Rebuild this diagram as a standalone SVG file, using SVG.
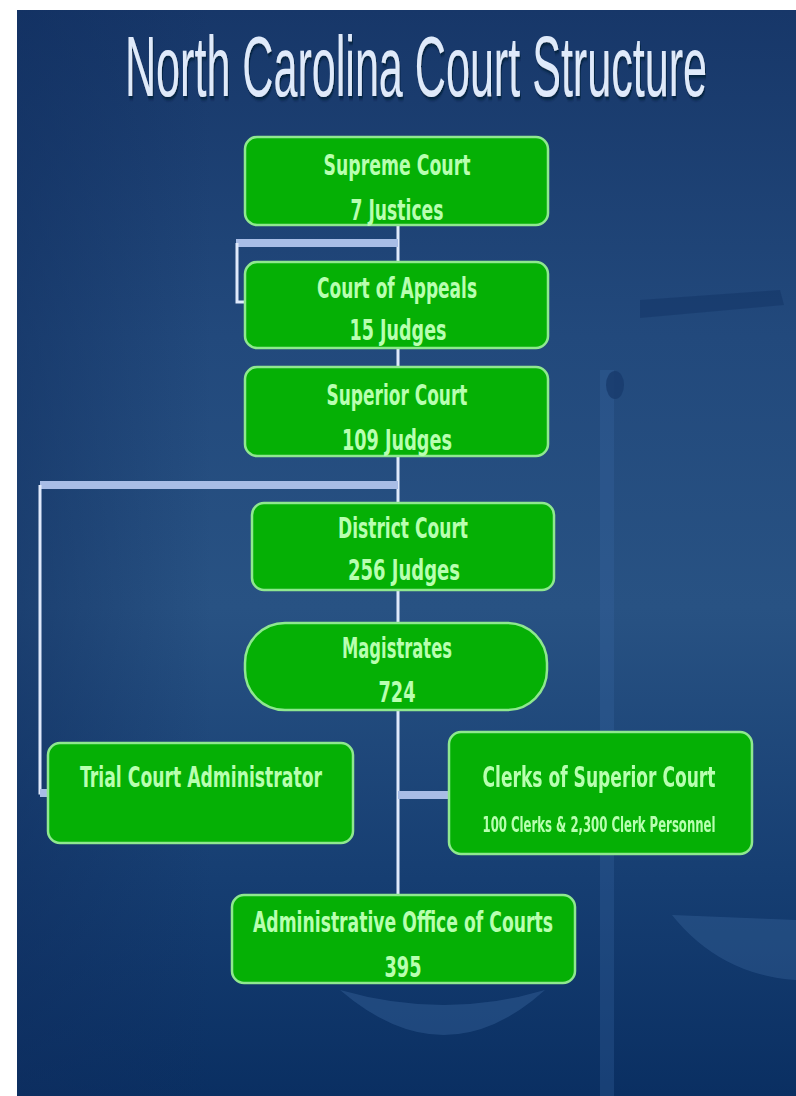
<svg xmlns="http://www.w3.org/2000/svg" width="796" height="1096" viewBox="0 0 796 1096">
  <defs>
    <linearGradient id="bg" x1="0" y1="0" x2="0" y2="1">
      <stop offset="0" stop-color="#173769"/>
      <stop offset="0.3" stop-color="#22497c"/>
      <stop offset="0.55" stop-color="#285283"/>
      <stop offset="0.8" stop-color="#163e72"/>
      <stop offset="1" stop-color="#0a2f62"/>
    </linearGradient>
    <linearGradient id="side" x1="0" y1="0" x2="1" y2="0">
      <stop offset="0" stop-color="#0f2d5e" stop-opacity="0.5"/>
      <stop offset="0.25" stop-color="#0f2d5e" stop-opacity="0"/>
      <stop offset="1" stop-color="#0f2d5e" stop-opacity="0"/>
    </linearGradient>
    <filter id="shadow" x="-5%" y="-20%" width="110%" height="150%">
      <feDropShadow dx="2" dy="3" stdDeviation="1.5" flood-color="#061a3a" flood-opacity="0.85"/>
    </filter>
    <style>
      .box { fill: #05b005; stroke: #8fe88f; stroke-width: 2.5; }
      .t { font-family: "DejaVu Sans", "Liberation Sans", sans-serif; font-weight: bold; fill: #b8ffb0; font-size: 29px; text-anchor: middle; }
      .s { font-size: 21px; }
      .band { stroke: #a8bde6; stroke-width: 8; fill: none; }
      .thin { stroke: #dfe9fb; stroke-width: 3; fill: none; }
      .title { font-family: "Liberation Sans", Arial, sans-serif; font-size: 85px; fill: #dfeafa; }
    </style>
  </defs>

  <rect x="0" y="0" width="796" height="1096" fill="#ffffff"/>
  <rect x="17" y="10" width="779" height="1086" fill="url(#bg)"/>
  <rect x="17" y="10" width="779" height="1086" fill="url(#side)"/>

  <!-- faint scales of justice in background -->
  <g id="background-scales" opacity="0.5">
    <rect x="600" y="370" width="14" height="726" fill="#3a68a4" opacity="0.6"/>
    <path d="M640 300 L780 290 L784 305 L640 318 Z" fill="#0d2c5c" opacity="0.7"/>
    <ellipse cx="615" cy="385" rx="9" ry="14" fill="#0d2c5c" opacity="0.8"/>
    <path d="M340 990 Q445 1080 545 990 Q445 1020 340 990 Z" fill="#4a78b0" opacity="0.6"/>
    <path d="M672 915 L796 920 L796 980 Q720 975 672 915 Z" fill="#4a78b0" opacity="0.55"/>
  </g>

  <text id="title" class="title" transform="scale(0.5,1)" x="250" y="96" textLength="1164" lengthAdjust="spacingAndGlyphs" filter="url(#shadow)">North Carolina Court Structure</text>

  <g id="connectors">
    <line class="thin" x1="398" y1="226" x2="398" y2="896"/>
    <line class="band" x1="236" y1="243" x2="398" y2="243"/>
    <polyline class="thin" points="237,243 237,302 246,302"/>
    <line class="band" x1="40" y1="485" x2="398" y2="485"/>
    <polyline class="thin" points="40,485 40,793 48,793"/>
    <line class="band" x1="40" y1="793" x2="48" y2="793" stroke-width="6"/>
    <line class="band" x1="398" y1="795" x2="450" y2="795" stroke-width="6"/>
  </g>

  <g id="supreme-court">
    <rect class="box" x="245" y="137" width="303" height="88" rx="12"/>
    <text class="t" transform="scale(0.6,1)" x="661.67" y="175" textLength="245" lengthAdjust="spacingAndGlyphs">Supreme Court</text>
    <text class="t" transform="scale(0.6,1)" x="661.67" y="220" textLength="155" lengthAdjust="spacingAndGlyphs">7 Justices</text>
  </g>

  <g id="court-of-appeals">
    <rect class="box" x="245" y="262" width="303" height="86" rx="12"/>
    <text class="t" transform="scale(0.6,1)" x="661.67" y="298" textLength="266.67" lengthAdjust="spacingAndGlyphs">Court of Appeals</text>
    <text class="t" transform="scale(0.6,1)" x="663.33" y="340" textLength="161.67" lengthAdjust="spacingAndGlyphs">15 Judges</text>
  </g>

  <g id="superior-court">
    <rect class="box" x="245" y="367" width="303" height="89" rx="12"/>
    <text class="t" transform="scale(0.6,1)" x="661.67" y="405" textLength="235" lengthAdjust="spacingAndGlyphs">Superior Court</text>
    <text class="t" transform="scale(0.6,1)" x="661.67" y="450" textLength="183.33" lengthAdjust="spacingAndGlyphs">109 Judges</text>
  </g>

  <g id="district-court">
    <rect class="box" x="252" y="503" width="302" height="87" rx="12"/>
    <text class="t" transform="scale(0.6,1)" x="671.67" y="538" textLength="216.67" lengthAdjust="spacingAndGlyphs">District Court</text>
    <text class="t" transform="scale(0.6,1)" x="673.33" y="580" textLength="186.67" lengthAdjust="spacingAndGlyphs">256 Judges</text>
  </g>

  <g id="magistrates">
    <rect class="box" x="245" y="623" width="302" height="87" rx="40"/>
    <text class="t" transform="scale(0.6,1)" x="661.67" y="658" textLength="183.33" lengthAdjust="spacingAndGlyphs">Magistrates</text>
    <text class="t" transform="scale(0.6,1)" x="661.67" y="702" textLength="61.67" lengthAdjust="spacingAndGlyphs">724</text>
  </g>

  <g id="trial-court-administrator">
    <rect class="box" x="48" y="743" width="305" height="100" rx="12"/>
    <text class="t" transform="scale(0.6,1)" x="335" y="787" textLength="403.33" lengthAdjust="spacingAndGlyphs">Trial Court Administrator</text>
  </g>

  <g id="clerks-of-superior-court">
    <rect class="box" x="449" y="732" width="303" height="122" rx="12"/>
    <text class="t" transform="scale(0.6,1)" x="998.33" y="787" textLength="388.33" lengthAdjust="spacingAndGlyphs">Clerks of Superior Court</text>
    <text class="t s" transform="scale(0.6,1)" x="998.33" y="832" textLength="388.33" lengthAdjust="spacingAndGlyphs">100 Clerks &amp; 2,300 Clerk Personnel</text>
  </g>

  <g id="administrative-office-of-courts">
    <rect class="box" x="232" y="895" width="343" height="88" rx="12"/>
    <text class="t" transform="scale(0.6,1)" x="671.67" y="932" textLength="500" lengthAdjust="spacingAndGlyphs">Administrative Office of Courts</text>
    <text class="t" transform="scale(0.6,1)" x="671.67" y="977" textLength="61.67" lengthAdjust="spacingAndGlyphs">395</text>
  </g>
</svg>
